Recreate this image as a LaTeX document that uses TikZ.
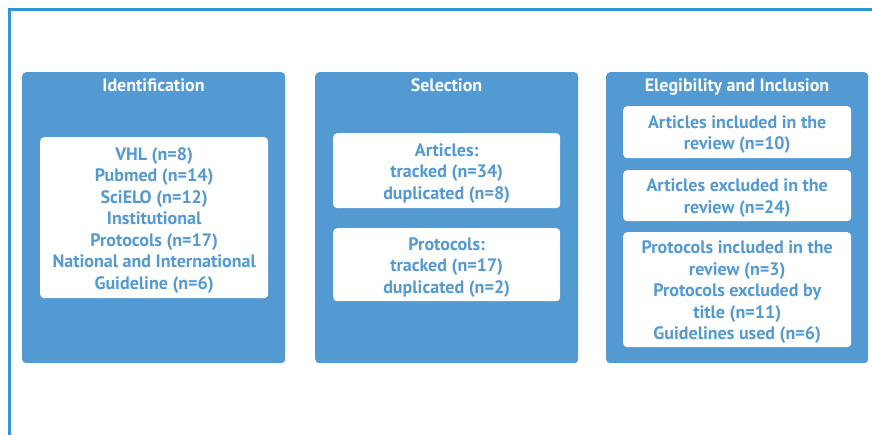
\documentclass[tikz,border=0pt]{standalone}
\usepackage{fontspec}
\setmainfont{PT Sans}
\definecolor{panelblue}{RGB}{83,153,210}
\definecolor{lineblue}{RGB}{46,150,216}
\begin{document}
\begin{tikzpicture}[x=1pt,y=-1pt,
  panel/.style={draw=none,fill=panelblue,rounded corners=4pt,anchor=north west,inner sep=0pt},
  wbox/.style={fill=white,rounded corners=4pt,anchor=north west,inner sep=0pt},
  ttl/.style={text=white,anchor=base,font=\fontsize{18}{21}\selectfont\bfseries},
  btxt/.style={text=panelblue,align=center,yshift=-2.5pt,font=\fontsize{18}{21.5}\selectfont\bfseries}]
\useasboundingbox (0,0) rectangle (872,435);
\draw[lineblue,line width=3pt] (9.5,435) -- (9.5,9.5) -- (872,9.5);
% panels
\node[panel,minimum width=263pt,minimum height=291pt] (p1) at (22,72) {};
\node[panel,minimum width=263pt,minimum height=291pt] (p2) at (315,72) {};
\node[panel,minimum width=262pt,minimum height=291pt] (p3) at (606,72) {};
% titles
\node[ttl] (t1) at (153.5,92) {Identification};
\node[ttl] (t2) at (446.5,92) {Selection};
\node[ttl] (t3) at (737,92) {Elegibility and Inclusion};
% white boxes
\node[wbox,minimum width=228pt,minimum height=161pt] (b1) at (40,137) {};
\node[wbox,minimum width=227pt,minimum height=75pt] (b2) at (333,133) {};
\node[wbox,minimum width=227pt,minimum height=73pt] (b3) at (333,228) {};
\node[wbox,minimum width=228pt,minimum height=52pt] (b4) at (623,106) {};
\node[wbox,minimum width=228pt,minimum height=51pt] (b5) at (623,170) {};
\node[wbox,minimum width=228pt,minimum height=115pt] (b6) at (623,232) {};
% texts
\node[btxt] (x1) at (b1.center) {VHL (n=8)\\Pubmed (n=14)\\SciELO (n=12)\\Institutional\\Protocols (n=17)\\National and International\\Guideline (n=6)};
\node[btxt] (x2) at (b2.center) {Articles:\\tracked (n=34)\\duplicated (n=8)};
\node[btxt] (x3) at (b3.center) {Protocols:\\tracked (n=17)\\duplicated (n=2)};
\node[btxt] (x4) at (b4.center) {Articles included in the\\review (n=10)};
\node[btxt] (x5) at (b5.center) {Articles excluded in the\\review (n=24)};
\node[btxt] (x6) at (b6.center) {Protocols included in the\\review (n=3)\\Protocols excluded by\\title (n=11)\\Guidelines used (n=6)};
\end{tikzpicture}
\end{document}
